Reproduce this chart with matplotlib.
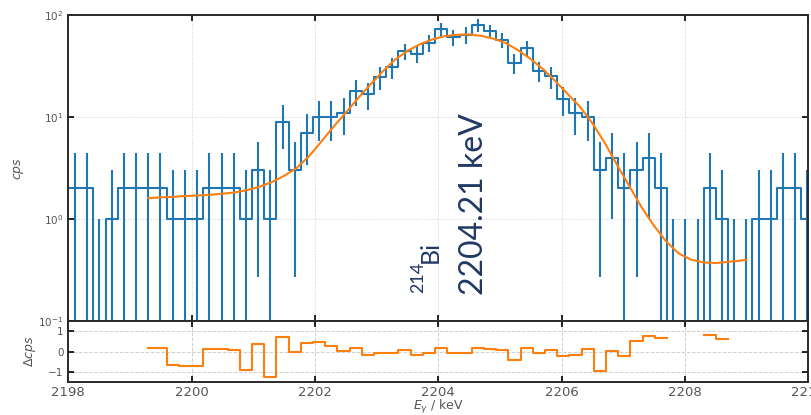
import numpy as np
import matplotlib
matplotlib.use("Agg")
import matplotlib.pyplot as plt
from matplotlib.ticker import NullLocator, FixedLocator

# ---------------- data ----------------
bin_start = 2198.01      # keV, lower edge of first bin
bin_width = 0.198        # keV

counts = [2, 2, 0, 1, 2, 2, 2, 2, 1, 1, 1, 2, 2, 2, 1, 3, 1, 9, 3, 7,
          10, 10, 11, 18, 16.7, 24.8, 30.7, 44.4, 41.5, 53.6, 72.4, 61, 64, 80, 70, 57,
          34, 47, 28.5, 25, 15, 11, 10, 3, 4, 2, 3, 4, 2, 0, 0, 0, 2, 1, 0, 0,
          1, 1, 2, 2, 1]
errors = [2.4, 2.4, 1, 2, 2.4, 2.4, 2.4, 2.4, 2, 2, 2, 2.4, 2.4, 2.4, 2, 2.73, 2, 4.1, 2.73, 3.6,
          4.2, 4.2, 4.3, 5.2, 4.9, 6.2, 7, 8, 8, 10.5, 11, 11, 11.5, 12, 10, 9,
          7.4, 8.2, 6.4, 6, 4.8, 4.3, 4.2, 2.73, 3, 2.4, 2.73, 3, 2.4, 1, 1, 1, 2.4, 2, 1, 1,
          2, 2, 2.4, 2.4, 2]

# fit curve
fit_E = [2199.3, 2199.5, 2199.7, 2199.9, 2200.1, 2200.3, 2200.5, 2200.7, 2200.9, 2201.1,
         2201.3, 2201.5, 2201.7, 2201.9, 2202.1, 2202.3, 2202.5, 2202.7, 2202.9, 2203.1,
         2203.3, 2203.5, 2203.7, 2203.9, 2204.1, 2204.3, 2204.5, 2204.7, 2204.9, 2205.1,
         2205.3, 2205.5, 2205.7, 2205.9, 2206.1, 2206.3, 2206.5, 2206.7, 2206.9, 2207.1,
         2207.3, 2207.5, 2207.7, 2207.9, 2208.1, 2208.3, 2208.5, 2208.7, 2208.9, 2209.0]
fit_cps = [1.60, 1.63, 1.65, 1.68, 1.70, 1.73, 1.77, 1.82, 1.92, 2.07,
           2.30, 2.65, 3.15, 4.1, 5.7, 8.0, 11.0, 15.3, 20.8, 28.0,
           36.5, 44.5, 51.5, 57.5, 62.0, 64.0, 64.5, 62.5, 58.5, 53.0,
           45.0, 37.0, 29.5, 22.5, 16.8, 12.6, 8.7, 5.6, 3.4, 2.1,
           1.3, 0.86, 0.60, 0.46, 0.40, 0.375, 0.37, 0.38, 0.39, 0.40]

# residuals (bins 6 .. 53), NaN where data are zero
resid_first_bin = 6
resid = [0.185, 0.185, -0.65, -0.73, -0.73, 0.135, 0.10, 0.07, -0.9, 0.35,
         -1.23, 0.72, -0.03, 0.435, 0.47, 0.25, 0.02, 0.185, -0.18, -0.05,
         -0.06, 0.085, -0.15, -0.05, 0.15, -0.06, -0.06, 0.185, 0.135, 0.07,
         -0.4, 0.185, -0.07, 0.07, -0.215, -0.18, 0.1, -0.98, 0.02, -0.215,
         0.5, 0.77, 0.67, np.nan, np.nan, np.nan, 0.835, 0.62]

x_ticks = [2198, 2200, 2202, 2204, 2206, 2208, 2210]
label_iso = "Bi"
label_mass = "214"
label_energy = "2204.21 keV"

# ---------------- style ----------------
blue = "#1f77b4"
orange = "#ff7f0e"
navy = "#203864"
grey = "#555555"
spine_c = "#2a2a2a"

W, H = 811, 415
fig = plt.figure(figsize=(W / 100, H / 100), dpi=100)
left_px, right_px = 68.3, 808.1
ax = fig.add_axes([left_px / W, (H - 321) / H, (right_px - left_px) / W, 306 / H])
axr = fig.add_axes([left_px / W, (H - 382) / H, (right_px - left_px) / W, 61 / H], sharex=ax)

counts_a = np.array(counts, dtype=float)
errors_a = np.array(errors, dtype=float)
edges = bin_start + bin_width * np.arange(len(counts_a) + 1)
centers = edges[:-1] + bin_width / 2

ax.set_yscale("log")
ax.step(edges, np.append(counts_a, counts_a[-1]), where="post", color=blue, lw=1.5)
ax.errorbar(centers, counts_a, yerr=errors_a, fmt="none", ecolor=blue, elinewidth=1.5, capsize=0)
ax.plot(fit_E, fit_cps, color=orange, lw=1.5)

ax.set_xlim(2198, 2210)
ax.set_ylim(0.1, 100)
ax.yaxis.set_minor_locator(NullLocator())
ax.xaxis.set_major_locator(FixedLocator(x_ticks))
ax.grid(True, which="major", color="#cfcfcf", ls=":", lw=0.7)
ax.tick_params(axis="both", which="both", direction="in", top=True, right=True,
               length=4, width=1.3, color="#111111", labelcolor=grey, labelsize=7.5,
               labelbottom=False)
ax.set_ylabel("$cps$", color=grey, fontsize=9)
ax.yaxis.set_label_coords((26 - left_px) / (right_px - left_px), 0.5)

# annotations
tr = ax.get_xaxis_transform()
ax.text(2204.728, 0.085, label_energy, rotation=90, rotation_mode="anchor",
        ha="left", va="baseline", transform=tr, color=navy, fontsize=23, family="Lato")
ax.text(2203.997, 0.1895, label_iso, rotation=90, rotation_mode="anchor",
        ha="left", va="baseline", transform=tr, color=navy, fontsize=18, family="Lato")
ax.text(2203.754, 0.0915, label_mass, rotation=90, rotation_mode="anchor",
        ha="left", va="baseline", transform=tr, color=navy, fontsize=13, family="Lato")

# residual panel
r_edges = edges[resid_first_bin:resid_first_bin + len(resid) + 1].copy()
r_edges[0] = fit_E[0]
resid_a = np.array(resid, dtype=float)
axr.plot(r_edges, np.append(resid_a, resid_a[-1]), drawstyle="steps-post", color=orange, lw=1.5)
axr.set_ylim(-1.5, 1.5)
axr.set_yticks([-1, 0, 1])
axr.grid(True, color="#cfcfcf", ls="--", lw=0.7)
axr.tick_params(axis="both", direction="in", top=True, right=True, length=4, width=1.3,
                color="#111111", labelcolor=grey)
axr.tick_params(axis="y", labelsize=7.5)
axr.tick_params(axis="x", labelsize=9.5, pad=3)
axr.set_ylabel("Δ$cps$", color=grey, fontsize=9)
axr.yaxis.set_label_coords((37.5 - left_px) / (right_px - left_px), 0.5)
axr.set_xlabel("$E_\\gamma$ / keV", color=grey, fontsize=9, labelpad=-1)

for a in (ax, axr):
    for s in a.spines.values():
        s.set_linewidth(1.4)
        s.set_color(spine_c)

fig.savefig("out.png", dpi=100)
